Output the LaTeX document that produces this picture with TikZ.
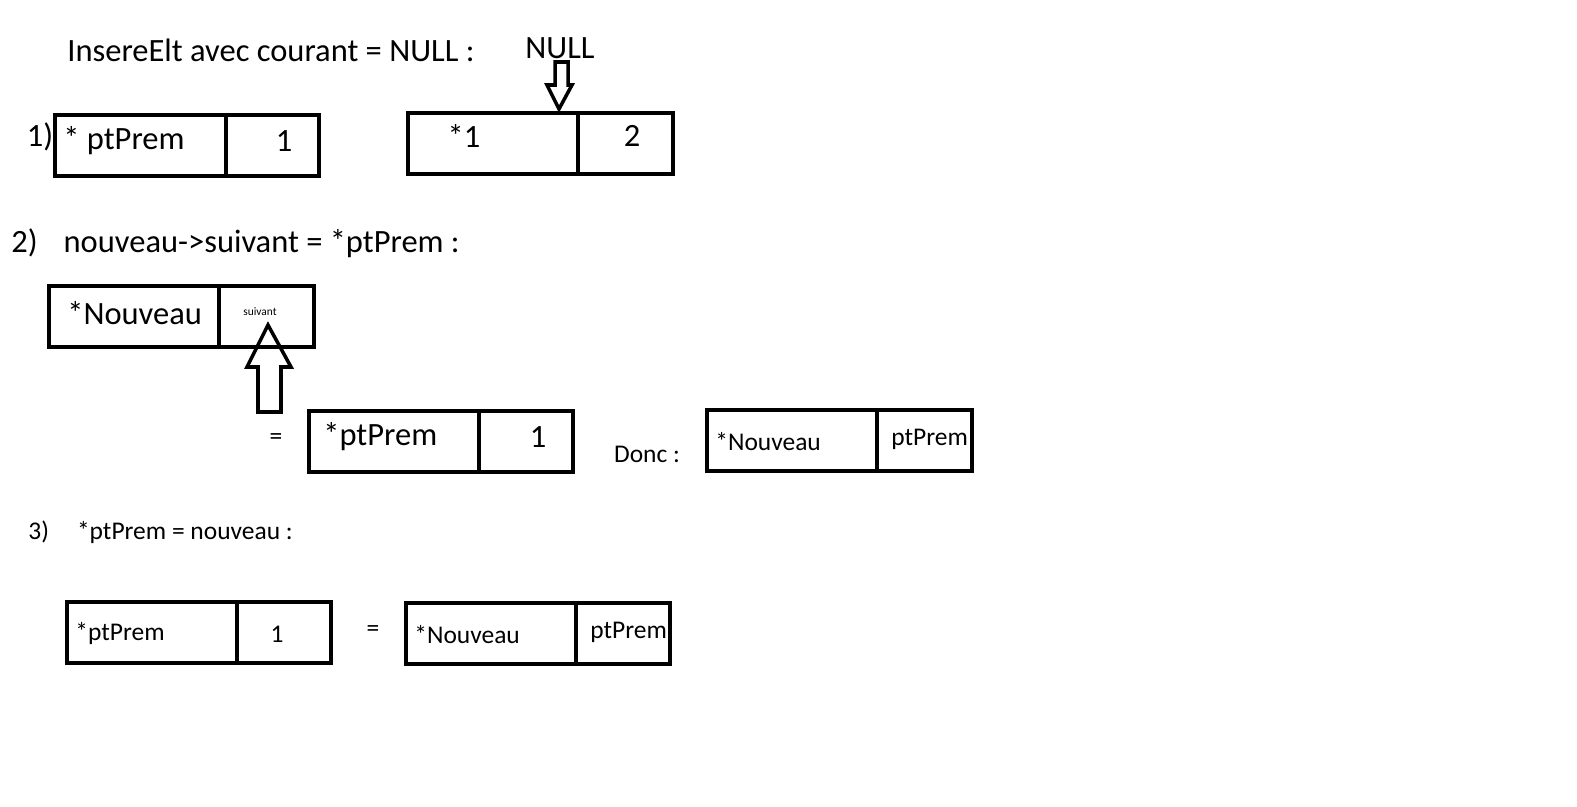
\documentclass[tikz,border=0pt]{standalone}
\usepackage{fontspec}
\setmainfont{Carlito}
\begin{document}
\begin{tikzpicture}[x=0.02cm,y=-0.02cm,
  bx/.style={line width=2.3pt},
  big/.style={font=\fontsize{18.5}{20}\selectfont,inner sep=0pt},
  med/.style={font=\fontsize{14.5}{16}\selectfont,inner sep=0pt},
  arr/.style={line width=2pt,line join=miter}]
\useasboundingbox (0,0) rectangle (1577,807);
\newcommand{\cell}[5]{\draw[bx] (#1,#2) rectangle (#3,#4); \draw[bx] (#5,#2) -- (#5,#4);}
% title
\node[big,anchor=west] (title) at (67,50) {InsereElt avec courant = NULL :};
\node[big] (null) at (560,48) {NULL};
% row 1
\node[big] (l1) at (40,137) {1)};
\cell{55}{115}{319}{176}{226}
\node[big,anchor=west] (a1) at (63,141) {* ptPrem};
\node[big] (a2) at (284,141) {1};
\cell{408}{113}{673}{174}{578}
\node[big] (b1) at (464,136) {*1};
\node[big] (b2) at (632,136) {2};
\draw[arr] (555,62) -- (568,62) -- (568,85) -- (572,85) -- (559,109) -- (547,85) -- (555,85) -- cycle;
% row 2
\node[big,anchor=west] (l2) at (11,243) {2)\hspace{0.8em}nouveau->suivant = *ptPrem :};
\cell{49}{286}{314}{347}{219}
\node[big,anchor=west] (c1) at (67,313) {*Nouveau};
\node[font=\fontsize{6.5}{7}\selectfont,inner sep=0pt] (c2) at (260,312) {suivant};
\draw[arr] (258,412) -- (281,412) -- (281,367) -- (291,367) -- (268,325) -- (247,367) -- (258,367) -- cycle;
\node[med] (eq1) at (276,439) {=};
\cell{309}{411}{573}{472}{479}
\node[big,anchor=west] (d1) at (323,437) {*ptPrem};
\node[big] (d2) at (538,437) {1};
\node[med] (donc) at (647,454) {Donc :};
\cell{707}{410}{972}{471}{877}
\node[med,anchor=west] (e1) at (715,442) {*Nouveau};
\node[med,anchor=west] (e2) at (891,439) {ptPrem};
% row 3
\node[med,anchor=west] (l3) at (28,532) {3)\hspace{1.1em}*ptPrem = nouveau :};
\cell{67}{602}{331}{663}{237}
\node[med,anchor=west] (f1) at (75,634) {*ptPrem};
\node[med] (f2) at (277,634) {1};
\node[med] (eq2) at (373,631) {=};
\cell{406}{603}{670}{664}{576}
\node[med,anchor=west] (g1) at (414,635) {*Nouveau};
\node[med,anchor=west] (g2) at (590,632) {ptPrem};
\end{tikzpicture}
\end{document}
